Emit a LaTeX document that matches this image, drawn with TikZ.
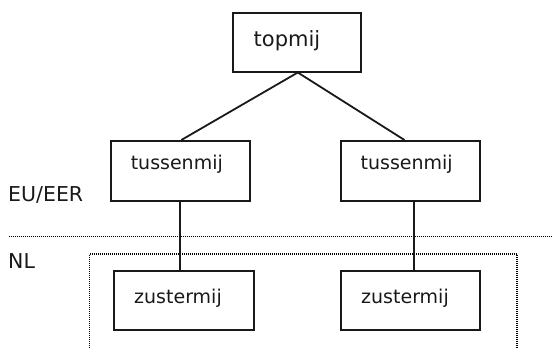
\documentclass[tikz,border=0pt]{standalone}
\usepackage{fontspec}
\setmainfont{DejaVu Sans}
\begin{document}
\begin{tikzpicture}[x=1pt,y=-1pt,
  box/.style={draw=black!90, line width=2pt, rectangle, inner sep=0pt, anchor=north west},
  boxtext/.style={font=\fontsize{19}{22}\selectfont, text=black!90, inner sep=0pt, anchor=base},
  toptext/.style={font=\fontsize{21}{24}\selectfont, text=black!90, inner sep=0pt, anchor=base},
  zonelabel/.style={font=\fontsize{20.5}{24}\selectfont, text=black!90, inner sep=0pt, anchor=base west},
  link/.style={draw=black!90, line width=1.8pt},
  border/.style={draw=black, line width=1.6pt, dash pattern=on 1pt off 1pt}
]
\useasboundingbox (0,0) rectangle (552,348);
% boxes
\node[box, minimum width=128.8pt, minimum height=58.5pt] (top) at (231.6,12) {};
\node[box, minimum width=139.5pt, minimum height=60pt] (tl) at (109.8,140) {};
\node[box, minimum width=138.9pt, minimum height=60pt] (tr) at (340,140) {};
\node[box, minimum width=140.1pt, minimum height=59.3pt] (zl) at (112.7,270) {};
\node[box, minimum width=138.9pt, minimum height=59.3pt] (zr) at (340,270) {};
% texts
\node[toptext] (toptxt) at (287,46) {topmij};
\node[boxtext] (tltxt) at (176.8,169) {tussenmij};
\node[boxtext] (trtxt) at (406.7,169) {tussenmij};
\node[boxtext] (zltxt) at (178,303) {zustermij};
\node[boxtext] (zrtxt) at (405,303) {zustermij};
% zone labels
\node[zonelabel] (eu) at (8,201.5) {EU/EER};
\node[zonelabel] (nl) at (8,268) {NL};
% borders
\coordinate (hl) at (8.5,236.5);
\coordinate (hr) at (552,236.5);
\draw[border] (hl) -- (hr);
\coordinate (nlbl) at (89.5,352);
\coordinate (nltl) at (89.5,254);
\coordinate (nltr) at (517,254);
\coordinate (nlbr) at (517,352);
\draw[border] (nlbl) -- (nltl) -- (nltr) -- (nlbr);
% connectors
\draw[link] ([xshift=0.8pt]top.south) -- ([xshift=0.8pt]tl.north);
\draw[link] ([xshift=0.8pt]top.south) -- ([xshift=-6pt]tr.north);
\draw[link] ([xshift=-0.55pt]tl.south) -- ([xshift=-0.55pt]tl.south |- zl.north);
\draw[link] ([xshift=3.55pt]tr.south) -- ([xshift=3.55pt]tr.south |- zr.north);
\end{tikzpicture}
\end{document}
